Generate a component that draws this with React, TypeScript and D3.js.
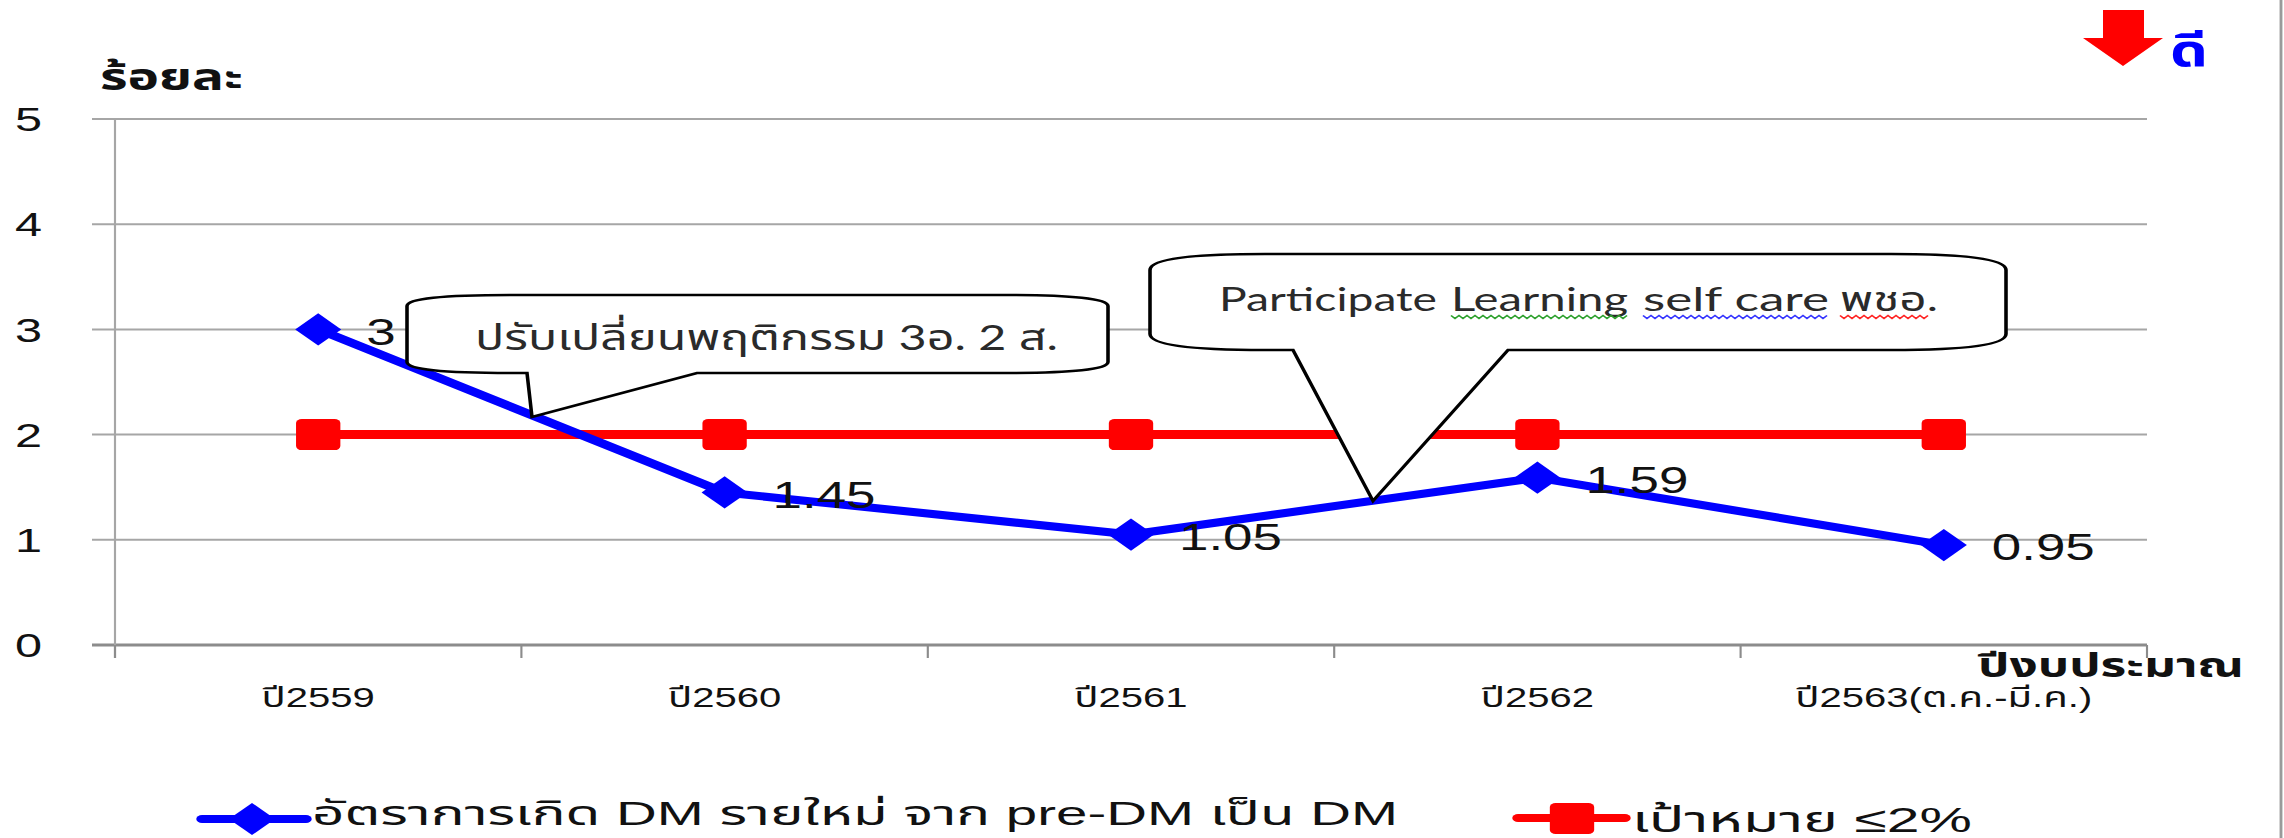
import React from 'react';
import * as d3 from 'd3';

const categories = ['ปี2559', 'ปี2560', 'ปี2561', 'ปี2562', 'ปี2563(ต.ค.-มี.ค.)'];
const newDmRate = [3, 1.45, 1.05, 1.59, 0.95];
const rateLabels = ['3', '1.45', '1.05', '1.59', '0.95'];
const targetRate = [2, 2, 2, 2, 2];
const yTicks = [0, 1, 2, 3, 4, 5];
const seriesNames = ['อัตราการเกิด DM รายใหม่ จาก pre-DM เป็น DM', 'เป้าหมาย ≤2%'];
const yTitle = 'ร้อยละ';
const xTitle = 'ปีงบประมาณ';
const goodLabel = 'ดี';
const note1 = 'ปรับเปลี่ยนพฤติกรรม 3อ. 2 ส.';
const note2Words = ['Participate', 'Learning', 'self care', 'พชอ.'];

const WIDTH = 2284;
const HEIGHT = 838;
// the source picture is stretched sideways, so draw in a narrower box and let the svg widen it
const SX = 1.43;
const px = (x: number) => x / SX;

const LATIN = '"Liberation Sans", Arial, sans-serif';
const THAI = '"Liberation Sans", "Noto Sans Thai", Tahoma, sans-serif';
const NOTE = 'Lato, "Open Sans", "Noto Sans Thai", sans-serif';

const BLUE = '#0000ff';
const RED = '#ff0000';
const GRID = '#a6a6a6';

interface Box {
  x0: number; y0: number; x1: number; y1: number;
  rx: number; ry: number; ta: number; tb: number; tip: [number, number];
}

// rounded callout with a pointed tail, coordinates in full picture pixels
function calloutPath(b: Box) {
  const p = d3.path();
  const { x0, y0, x1, y1, rx, ry } = b;
  p.moveTo(px(x0 + rx), y0);
  p.lineTo(px(x1 - rx), y0);
  p.quadraticCurveTo(px(x1), y0, px(x1), y0 + ry);
  p.lineTo(px(x1), y1 - ry);
  p.quadraticCurveTo(px(x1), y1, px(x1 - rx), y1);
  p.lineTo(px(b.tb), y1);
  p.lineTo(px(b.tip[0]), b.tip[1]);
  p.lineTo(px(b.ta), y1);
  p.lineTo(px(x0 + rx), y1);
  p.quadraticCurveTo(px(x0), y1, px(x0), y1 - ry);
  p.lineTo(px(x0), y0 + ry);
  p.quadraticCurveTo(px(x0), y0, px(x0 + rx), y0);
  p.closePath();
  return p.toString();
}

// spell-check squiggle under a word
function squiggle(x0: number, x1: number, y: number) {
  const pts: [number, number][] = [];
  for (let x = x0, i = 0; x <= x1; x += 4, i++) pts.push([px(x), y + (i % 2 ? 1.5 : -1.5)]);
  return d3.line()(pts) || '';
}

const App: React.FC = () => {
  const x = d3.scaleBand<string>().domain(categories).range([px(115), px(2147)]);
  const y = d3.scaleLinear().domain([0, 5]).range([645, 119]);
  const cx = (c: string) => (x(c) ?? 0) + x.bandwidth() / 2;

  const line = d3.line<number>()
    .x((_, i) => cx(categories[i]))
    .y(d => y(d));

  const diamond = d3.symbol().type(d3.symbolSquare).size(520)() || '';
  const sq = 31;

  const boundaries = categories.map(c => x(c) ?? 0).concat([px(2147)]);

  const box1: Box = { x0: 407, y0: 295, x1: 1108, y1: 373, rx: 105, ry: 11, ta: 527, tb: 697, tip: [532, 417] };
  const box2: Box = { x0: 1150, y0: 254, x1: 2006, y1: 350, rx: 115, ry: 16, ta: 1293, tb: 1508, tip: [1373, 501] };

  const note2Pos = [[1219, 1437], [1451, 1628], [1643, 1829], [1840, 1938]];

  return (
    <svg
      width={WIDTH}
      height={HEIGHT}
      viewBox={`0 0 ${px(WIDTH)} ${HEIGHT}`}
      preserveAspectRatio="none"
      style={{ position: 'absolute', left: 0, top: 0, display: 'block', background: '#fff' }}
    >
      <rect x={0} y={0} width={px(WIDTH)} height={HEIGHT} fill="#fff" />

      {/* gridlines and y ticks */}
      {yTicks.map(t => (
        <g key={t}>
          <line x1={px(92)} x2={px(2147)} y1={y(t)} y2={y(t)} stroke={t === 0 ? '#8c8c8c' : GRID} strokeWidth={t === 0 ? 3 : 2} />
          <text x={px(42)} y={y(t)} dy="0.36em" textAnchor="end" fontFamily={LATIN} fontSize={34} fill="#111">
            {t}
          </text>
        </g>
      ))}
      <line x1={px(115)} x2={px(115)} y1={119} y2={658} stroke={GRID} strokeWidth={1.5} />
      {boundaries.map((b, i) => (
        <line key={i} x1={b} x2={b} y1={645} y2={658} stroke="#8c8c8c" strokeWidth={1.5} />
      ))}

      {/* category labels */}
      {categories.map(c => (
        <text key={c} x={cx(c)} y={707} textAnchor="middle" fontFamily={THAI} fontSize={28} fill="#111">
          {c}
        </text>
      ))}

      <text x={px(100)} y={90} fontFamily={THAI} fontWeight="bold" fontSize={38} fill="#111" textLength={px(143)} lengthAdjust="spacingAndGlyphs">
        {yTitle}
      </text>
      <text x={px(1978)} y={677} fontFamily={THAI} fontWeight="bold" fontSize={33} fill="#111" textLength={px(266)} lengthAdjust="spacingAndGlyphs">
        {xTitle}
      </text>

      {/* target series */}
      <path d={line(targetRate) || ''} fill="none" stroke={RED} strokeWidth={9} />
      {targetRate.map((v, i) => (
        <rect key={i} x={cx(categories[i]) - sq / 2} y={y(v) - 15.5} width={sq} height={31} rx={4} fill={RED} />
      ))}

      {/* new DM rate series */}
      <path d={line(newDmRate) || ''} fill="none" stroke={BLUE} strokeWidth={8} strokeLinejoin="round" />
      {newDmRate.map((v, i) => (
        <path key={i} d={diamond} transform={`translate(${cx(categories[i])},${y(v)}) rotate(45)`} fill={BLUE} />
      ))}
      {newDmRate.map((v, i) => (
        <text key={i} x={cx(categories[i]) + px(48)} y={y(v) + 2} dy="0.36em" fontFamily={LATIN} fontSize={37} fill="#111">
          {rateLabels[i]}
        </text>
      ))}

      {/* callouts */}
      <path d={calloutPath(box1)} fill="#fff" stroke="#000" strokeWidth={2.5} strokeLinejoin="miter" />
      <text x={px(475)} y={350} fontFamily={NOTE} fontSize={35} fill="#2a2a2a" textLength={px(583)} lengthAdjust="spacingAndGlyphs">
        {note1}
      </text>
      <path d={calloutPath(box2)} fill="#fff" stroke="#000" strokeWidth={2.5} strokeLinejoin="miter" />
      {note2Words.map((w, i) => (
        <text key={w} x={px(note2Pos[i][0])} y={311} fontFamily={NOTE} fontSize={33} fill="#2a2a2a"
          textLength={px(note2Pos[i][1] - note2Pos[i][0])} lengthAdjust="spacingAndGlyphs">
          {w}
        </text>
      ))}
      <path d={squiggle(1451, 1628, 317)} fill="none" stroke="#2ca02c" strokeWidth={1.2} />
      <path d={squiggle(1643, 1829, 317)} fill="none" stroke="#3333ff" strokeWidth={1.2} />
      <path d={squiggle(1840, 1928, 317)} fill="none" stroke="#ff2222" strokeWidth={1.2} />

      {/* "better is lower" arrow */}
      <path
        d={`M${px(2103)},10 L${px(2144)},10 L${px(2144)},38 L${px(2163)},38 L${px(2123)},66 L${px(2083)},38 L${px(2103)},38 Z`}
        fill={RED}
      />
      <text x={px(2170)} y={66} fontFamily={THAI} fontWeight="bold" fontSize={44} fill={BLUE} textLength={px(38)} lengthAdjust="spacingAndGlyphs">
        {goodLabel}
      </text>

      {/* legend */}
      <line x1={px(202)} x2={px(306)} y1={819} y2={819} stroke={BLUE} strokeWidth={8} strokeLinecap="round" />
      <path d={diamond} transform={`translate(${px(252)},819) rotate(45)`} fill={BLUE} />
      <text x={px(312)} y={825} fontFamily={THAI} fontSize={33} fill="#111" textLength={px(1086)} lengthAdjust="spacingAndGlyphs">
        {seriesNames[0]}
      </text>
      <line x1={px(1518)} x2={px(1625)} y1={818} y2={818} stroke={RED} strokeWidth={8} strokeLinecap="round" />
      <rect x={px(1572) - sq / 2} y={803} width={sq} height={31} rx={4} fill={RED} />
      <text x={px(1632)} y={832} fontFamily={THAI} fontSize={36} fill="#111" textLength={px(340)} lengthAdjust="spacingAndGlyphs">
        {seriesNames[1]}
      </text>

      {/* frame edge on the right */}
      <line x1={px(2281)} x2={px(2281)} y1={0} y2={HEIGHT} stroke="#9a9a9a" strokeWidth={2} />
    </svg>
  );
};

export default App;
